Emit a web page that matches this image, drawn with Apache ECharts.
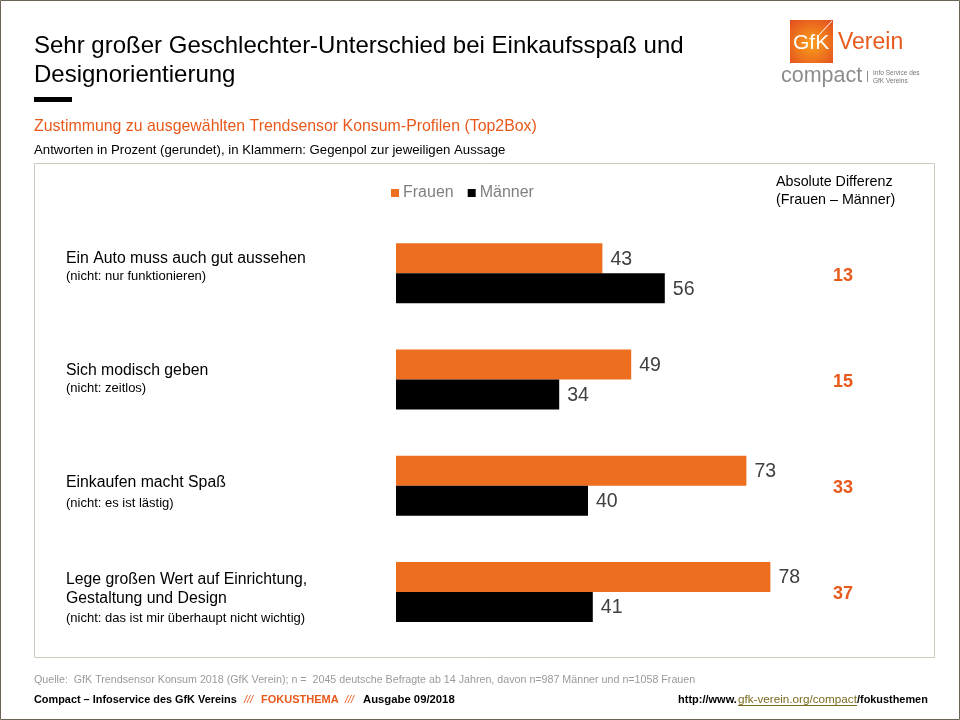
<!DOCTYPE html>
<html>
<head>
<meta charset="utf-8">
<style>html,body{margin:0;padding:0;background:#fff}#chart{width:960px;height:720px}</style>
<script src="https://cdn.jsdelivr.net/npm/echarts@6/dist/echarts.min.js"></script>
</head>
<body>
<div id="chart"></div>
<script>
var aussagen = ['Ein Auto muss auch gut aussehen', 'Sich modisch geben', 'Einkaufen macht Spaß', 'Lege großen Wert auf Einrichtung,\nGestaltung und Design'];
var gegenpol = ['(nicht: nur funktionieren)', '(nicht: zeitlos)', '(nicht: es ist lästig)', '(nicht: das ist mir überhaupt nicht wichtig)'];
var frauen = [43, 49, 73, 78];
var maenner = [56, 34, 40, 41];
var differenz = [13, 15, 33, 37];

var FONT = '"Liberation Sans", Arial, sans-serif';
var ORANGE = '#ee6e1f';

var chart = echarts.init(document.getElementById('chart'));

// textbausteine ausserhalb des plots
function txt(x, y, text, size, color, extra) {
    var style = {x: x, y: y, text: text, fontSize: size, fill: color, fontFamily: FONT, textVerticalAlign: 'middle'};
    for (var k in extra) style[k] = extra[k];
    return {type: 'text', silent: true, style: style};
}

var labelPadding = [[0, 0, 12, 0], [0, 0, 1, 0], [16, 0, 0, 0], [16, 0, 0, 0]];
var subRich = ['b', 'b', 'c', 'c'];

var catData = aussagen.map(function (name, i) {
    var lines = name.split('\n').map(function (l) { return '{a|' + l + '}'; });
    return {
        value: lines.join('\n') + '\n{' + subRich[i] + '|' + gegenpol[i] + '}',
        textStyle: {align: 'left', padding: labelPadding[i]}
    };
});

var diffData = differenz.map(function (d) {
    return {value: '{d|' + d + '}', textStyle: {align: 'center', padding: [5, 0, 0, 0]}};
});

chart.setOption({
    animation: false,
    backgroundColor: '#fff',
    textStyle: {fontFamily: FONT},
    title: [
        {text: 'Sehr großer Geschlechter-Unterschied bei Einkaufsspaß und\nDesignorientierung', left: 34, top: 32, padding: 0,
            textStyle: {fontSize: 24, fontWeight: 'normal', color: '#000', lineHeight: 29, fontFamily: FONT}},
        {text: 'Zustimmung zu ausgewählten Trendsensor Konsum-Profilen (Top2Box)', left: 34, top: 119, padding: 0,
            textStyle: {fontSize: 15.9, fontWeight: 'normal', color: '#e8591c', fontFamily: FONT}},
        {text: 'Antworten in Prozent (gerundet), in Klammern: Gegenpol zur jeweiligen Aussage', left: 34, top: 144, padding: 0,
            textStyle: {fontSize: 13.2, fontWeight: 'normal', color: '#000', fontFamily: FONT}}
    ],
    legend: {
        data: ['Frauen', 'Männer'], left: 391, top: 185, padding: 0, icon: 'rect', itemWidth: 8, itemHeight: 8, itemGap: 14,
        textStyle: {fontSize: 16, color: '#7f7f7f', fontFamily: FONT, padding: [0, 0, 0, -1]}
    },
    grid: {left: 396, top: 220, width: 480, height: 425, outerBoundsMode: 'none'},
    xAxis: {type: 'value', min: 0, max: 100, show: false},
    yAxis: [
        {
            type: 'category', inverse: true, data: catData,
            axisLine: {show: false}, axisTick: {show: false},
            axisLabel: {
                align: 'left', margin: 330, interval: 0,
                rich: {
                    a: {fontSize: 15.8, color: '#000', lineHeight: 19, fontFamily: FONT},
                    b: {fontSize: 13, color: '#000', lineHeight: 16, fontFamily: FONT},
                    c: {fontSize: 13, color: '#000', lineHeight: 22, fontFamily: FONT}
                }
            }
        },
        {
            type: 'category', inverse: true, position: 'right', data: diffData,
            axisLine: {show: false}, axisTick: {show: false},
            axisLabel: {
                align: 'center', margin: -33, interval: 0,
                rich: {d: {fontSize: 18, fontWeight: 'bold', color: '#e8591c', lineHeight: 22, fontFamily: FONT}}
            }
        }
    ],
    series: [
        {
            name: 'Frauen', type: 'bar', data: frauen, barWidth: 30, barGap: 0, itemStyle: {color: ORANGE},
            label: {show: true, position: 'right', distance: 8, offset: [0, 1], fontSize: 19.5, color: '#404040', fontFamily: FONT}
        },
        {
            name: 'Männer', type: 'bar', data: maenner, barWidth: 30, barGap: 0, itemStyle: {color: '#000'},
            label: {show: true, position: 'right', distance: 8, offset: [0, 1], fontSize: 19.5, color: '#404040', fontFamily: FONT}
        }
    ],
    graphic: [
        {type: 'rect', silent: true, shape: {x: 0.5, y: 0.5, width: 959, height: 719}, style: {fill: 'none', stroke: '#6b6355', lineWidth: 1}},
        {type: 'rect', silent: true, shape: {x: 34.5, y: 163.5, width: 900, height: 494}, style: {fill: 'none', stroke: '#cfcabf', lineWidth: 1}},
        {type: 'rect', silent: true, shape: {x: 34, y: 97, width: 38, height: 5}, style: {fill: '#000'}},

        txt(776, 182, 'Absolute Differenz', 14.3, '#000'),
        txt(776, 200, '(Frauen – Männer)', 14.3, '#000'),

        txt(34, 680, 'Quelle:  GfK Trendsensor Konsum 2018 (GfK Verein); n =  2045 deutsche Befragte ab 14 Jahren, davon n=987 Männer und n=1058 Frauen', 10.7, '#9a9a9a'),
        txt(34, 700, 'Compact – Infoservice des GfK Vereins', 10.9, '#000', {fontWeight: 'bold'}),
        txt(244, 700, '///', 11, '#e8591c', {fontStyle: 'italic'}),
        txt(261, 700, 'FOKUSTHEMA', 11, '#e8591c', {fontWeight: 'bold'}),
        txt(345, 700, '///', 11, '#e8591c', {fontStyle: 'italic'}),
        txt(363, 700, 'Ausgabe 09/2018', 11.3, '#000', {fontWeight: 'bold'}),
        txt(678, 700, 'http://www.', 11, '#000', {fontWeight: 'bold'}),
        txt(738, 700, 'gfk-verein.org/compact', 11.7, '#7a6a20'),
        {type: 'rect', silent: true, shape: {x: 738, y: 705, width: 119, height: 1}, style: {fill: '#7a6a20'}},
        txt(857, 700, '/fokusthemen', 10.9, '#000', {fontWeight: 'bold'}),

        // logo
        {type: 'rect', silent: true, shape: {x: 790, y: 20, width: 43, height: 43}, style: {
            fill: new echarts.graphic.RadialGradient(0.5, 0.55, 0.7, [{offset: 0, color: '#f9a11b'}, {offset: 1, color: '#e4501f'}])
        }},
        {type: 'line', silent: true, shape: {x1: 818, y1: 36, x2: 832, y2: 21}, style: {stroke: '#fff', lineWidth: 1}},
        txt(793, 43, 'GfK', 21, '#fff'),
        txt(838, 43, 'Verein', 23, '#e8591c'),
        txt(781, 76, 'compact', 21.5, '#8c8c8c'),
        {type: 'rect', silent: true, shape: {x: 867, y: 71, width: 1, height: 11}, style: {fill: '#8c8c8c'}},
        txt(873, 73, 'Info Service des', 6.5, '#777'),
        txt(873, 81, 'GfK Vereins', 6.5, '#777')
    ]
});
</script>
</body>
</html>
